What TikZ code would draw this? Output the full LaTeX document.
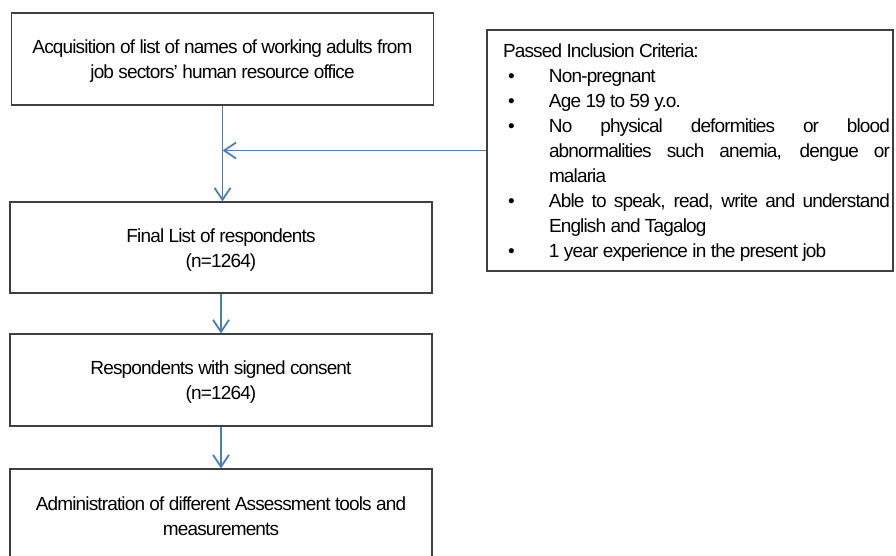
\documentclass[tikz,border=0pt]{standalone}
\usepackage{fontspec}
\setmainfont[LetterSpace=-4.5]{Liberation Sans}
\usetikzlibrary{arrows.meta}
\definecolor{arrowblue}{HTML}{4A7EBB}
\definecolor{boxline}{HTML}{3F3F3F}
\newcommand\bul{\makebox[46pt][l]{\hspace{5pt}\textbullet}}
\newcommand\flowtext[1]{\raisebox{0pt}[\dimexpr\height+4pt\relax]{\begin{tabular}{@{}c@{}}#1\end{tabular}}}
\begin{document}
\begin{tikzpicture}[x=1pt,y=-1pt,
  flowbox/.style={draw=boxline,line width=1.1pt,rectangle,minimum width=422pt,inner sep=0pt,font=\fontsize{19}{25}\selectfont},
  critbox/.style={draw=boxline,line width=1.3pt,rectangle,minimum width=406pt,minimum height=241pt,inner sep=0pt},
  flowarrow/.style={draw=arrowblue,line width=1.8pt,-{Straight Barb[length=12pt,width=16pt,line width=1.8pt]}}]
\useasboundingbox (0,0) rectangle (896,556);
\fill[white] (0,0) rectangle (896,556);
\node[flowbox,minimum height=92pt] (acq) at (222.5,59) {\flowtext{Acquisition of list of names of working adults from\\job sectors’ human resource office}};
\node[flowbox,minimum height=91pt] (final) at (221,247.5) {\flowtext{Final List of respondents\\(n=1264)}};
\node[flowbox,minimum height=92pt] (consent) at (221,380) {\flowtext{Respondents with signed consent\\(n=1264)}};
\node[flowbox,minimum height=93pt] (admin) at (221,515.5) {\flowtext{Administration of different Assessment tools and\\measurements}};
\node[critbox] (crit) at (690,150.5) {\hspace{13pt}\raisebox{0pt}[\dimexpr\height+4pt\relax]{\begin{minipage}{387pt}\fontsize{19}{25}\selectfont
Passed Inclusion Criteria:\\
\bul Non-pregnant\\
\bul Age 19 to 59 y.o.\\
\bul\makebox[341pt][s]{No physical deformities or blood}\\
\hspace*{46pt}\makebox[341pt][s]{abnormalities such anemia, dengue or}\\
\hspace*{46pt}malaria\\
\bul\makebox[341pt][s]{Able to speak, read, write and understand}\\
\hspace*{46pt}English and Tagalog\\
\bul 1 year experience in the present job
\end{minipage}}};
\coordinate (join) at (acq.south |- crit.west);
\draw[flowarrow] (acq.south) -- (acq.south |- final.north);
\draw[flowarrow] (crit.west) -- (join);
\draw[flowarrow] (final.south) -- (consent.north);
\draw[flowarrow] (consent.south) -- (admin.north);
\end{tikzpicture}
\end{document}
